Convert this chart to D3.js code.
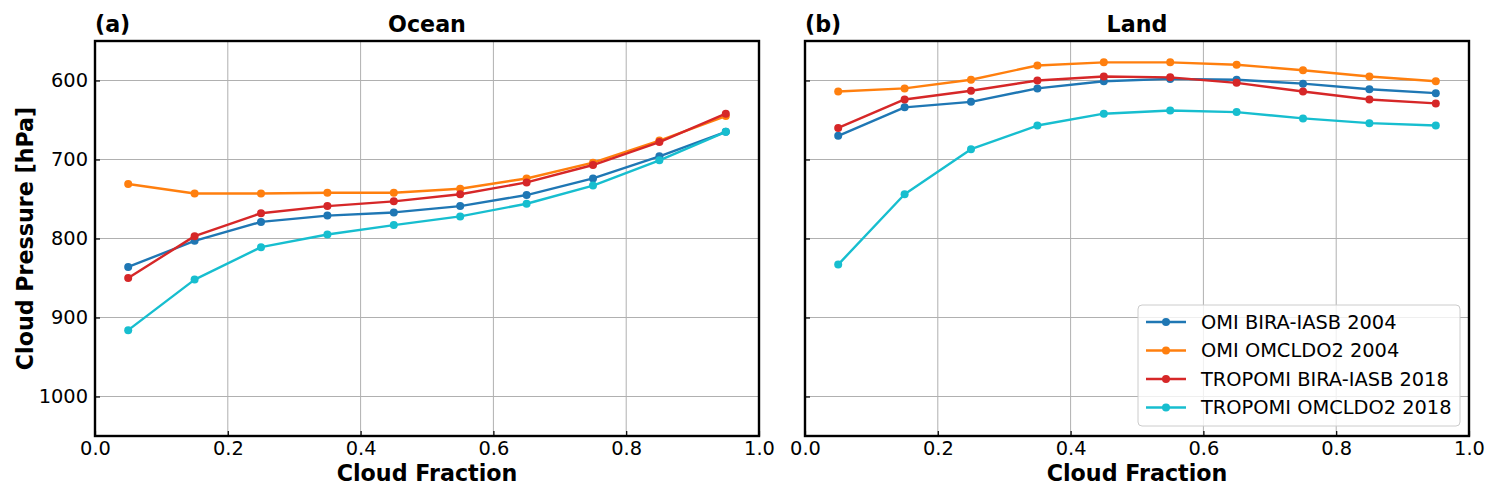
<!DOCTYPE html>
<html>
<head>
<meta charset="utf-8">
<script src="https://cdn.jsdelivr.net/npm/d3@7"></script>
<style>
  html, body { margin: 0; padding: 0; background: #fff; }
  svg { display: block; font-family: "DejaVu Sans", sans-serif; }
</style>
</head>
<body>
<svg id="chart" width="1498" height="496"></svg>
<script>
// ---- data ----
const cloudFraction = [0.05, 0.15, 0.25, 0.35, 0.45, 0.55, 0.65, 0.75, 0.85, 0.95];
const seriesNames = ["OMI BIRA-IASB 2004", "OMI OMCLDO2 2004", "TROPOMI BIRA-IASB 2018", "TROPOMI OMCLDO2 2018"];
const seriesColors = ["#1f77b4", "#ff7f0e", "#d62728", "#17becf"];

const oceanOmiBira     = [836, 803, 779, 771, 767, 759, 745, 724, 696, 665];
const oceanOmiOmcldo2  = [731, 743, 743, 742, 742, 737, 724, 704, 676, 645];
const oceanTropBira    = [850, 797, 768, 759, 753, 744, 729, 707, 678, 642];
const oceanTropOmcldo2 = [916, 852, 811, 795, 783, 772, 756, 733, 701, 665];

const landOmiBira      = [670, 634, 627, 610, 601, 598, 599, 604, 611, 616];
const landOmiOmcldo2   = [614, 610, 599, 581, 577, 577, 580, 587, 595, 601];
const landTropBira     = [660, 624, 613, 600, 595, 596, 603, 614, 624, 629];
const landTropOmcldo2  = [833, 744, 687, 657, 642, 638, 640, 648, 654, 657];

const xTicks = [0.0, 0.2, 0.4, 0.6, 0.8, 1.0];
const yTicks = [600, 700, 800, 900, 1000];

const panels = [
  { tag: "(a)", title: "Ocean", series: [oceanOmiBira, oceanOmiOmcldo2, oceanTropBira, oceanTropOmcldo2], left: 95, right: 759, yLabels: true, legend: false },
  { tag: "(b)", title: "Land",  series: [landOmiBira, landOmiOmcldo2, landTropBira, landTropOmcldo2],   left: 805, right: 1469, yLabels: false, legend: true }
];

const plotTop = 41, plotBottom = 436;
const tickFont = "19.4px", labelFont = "22.2px";
const svg = d3.select("#chart");

panels.forEach(p => {
  const x = d3.scaleLinear().domain([0, 1]).range([p.left, p.right]);
  const y = d3.scaleLinear().domain([550, 1050]).range([plotTop, plotBottom]);
  const g = svg.append("g");

  // grid
  g.selectAll(null).data(xTicks.slice(1, -1)).enter().append("line")
    .attr("x1", d => x(d)).attr("x2", d => x(d)).attr("y1", plotTop).attr("y2", plotBottom)
    .attr("stroke", "#b0b0b0").attr("stroke-width", 1);
  g.selectAll(null).data(yTicks).enter().append("line")
    .attr("x1", p.left).attr("x2", p.right).attr("y1", d => y(d)).attr("y2", d => y(d))
    .attr("stroke", "#b0b0b0").attr("stroke-width", 1);

  // series
  const line = d3.line().x((d, i) => x(cloudFraction[i])).y(d => y(d));
  p.series.forEach((vals, si) => {
    g.append("path").datum(vals).attr("d", line)
      .attr("fill", "none").attr("stroke", seriesColors[si]).attr("stroke-width", 2.4)
      .attr("stroke-linejoin", "round");
    g.selectAll(null).data(vals).enter().append("circle")
      .attr("cx", (d, i) => x(cloudFraction[i])).attr("cy", d => y(d)).attr("r", 4)
      .attr("fill", seriesColors[si]);
  });

  // axes (inward ticks)
  const xAxis = d3.axisBottom(x).tickValues(xTicks).tickFormat(d3.format(".1f")).tickSizeInner(-5).tickSizeOuter(0).tickPadding(5);
  const gx = g.append("g").attr("transform", `translate(0,${plotBottom})`).call(xAxis);
  gx.select(".domain").remove();
  gx.selectAll("line").attr("stroke", "#000").attr("stroke-width", 1.2);
  gx.selectAll("text").attr("font-size", tickFont).attr("fill", "#000").attr("font-family", "DejaVu Sans");

  const yAxis = d3.axisLeft(y).tickValues(yTicks).tickSizeInner(-5).tickSizeOuter(0).tickPadding(7)
    .tickFormat(p.yLabels ? d3.format("d") : () => "");
  const gy = g.append("g").attr("transform", `translate(${p.left},0)`).call(yAxis);
  gy.select(".domain").remove();
  gy.selectAll("line").attr("stroke", "#000").attr("stroke-width", 1.2);
  gy.selectAll("text").attr("font-size", tickFont).attr("fill", "#000").attr("font-family", "DejaVu Sans");

  // frame
  g.append("rect").attr("x", p.left).attr("y", plotTop).attr("width", p.right - p.left).attr("height", plotBottom - plotTop)
    .attr("fill", "none").attr("stroke", "#000").attr("stroke-width", 2.4);

  // titles
  g.append("text").attr("x", p.left).attr("y", 32).attr("font-size", labelFont).attr("font-weight", "bold").text(p.tag);
  g.append("text").attr("x", (p.left + p.right) / 2).attr("y", 32).attr("text-anchor", "middle")
    .attr("font-size", labelFont).attr("font-weight", "bold").text(p.title);
  g.append("text").attr("x", (p.left + p.right) / 2).attr("y", 481).attr("text-anchor", "middle")
    .attr("font-size", labelFont).attr("font-weight", "bold").text("Cloud Fraction");

  if (p.yLabels) {
    g.append("text").attr("transform", `translate(33,${(plotTop + plotBottom) / 2}) rotate(-90)`)
      .attr("text-anchor", "middle").attr("font-size", labelFont).attr("font-weight", "bold")
      .text("Cloud Pressure [hPa]");
  }

  if (p.legend) {
    const lg = g.append("g");
    lg.append("rect").attr("x", 1138).attr("y", 305).attr("width", 322).attr("height", 121)
      .attr("rx", 4).attr("fill", "#fff").attr("fill-opacity", 0.8).attr("stroke", "#cccccc").attr("stroke-width", 1);
    seriesNames.forEach((name, si) => {
      const yy = 322 + si * 28.5;
      lg.append("line").attr("x1", 1146).attr("x2", 1186).attr("y1", yy).attr("y2", yy)
        .attr("stroke", seriesColors[si]).attr("stroke-width", 2.4);
      lg.append("circle").attr("cx", 1166).attr("cy", yy).attr("r", 4).attr("fill", seriesColors[si]);
      lg.append("text").attr("x", 1201).attr("y", yy).attr("dy", "0.35em").attr("font-size", tickFont).text(name);
    });
  }
});
</script>
</body>
</html>
